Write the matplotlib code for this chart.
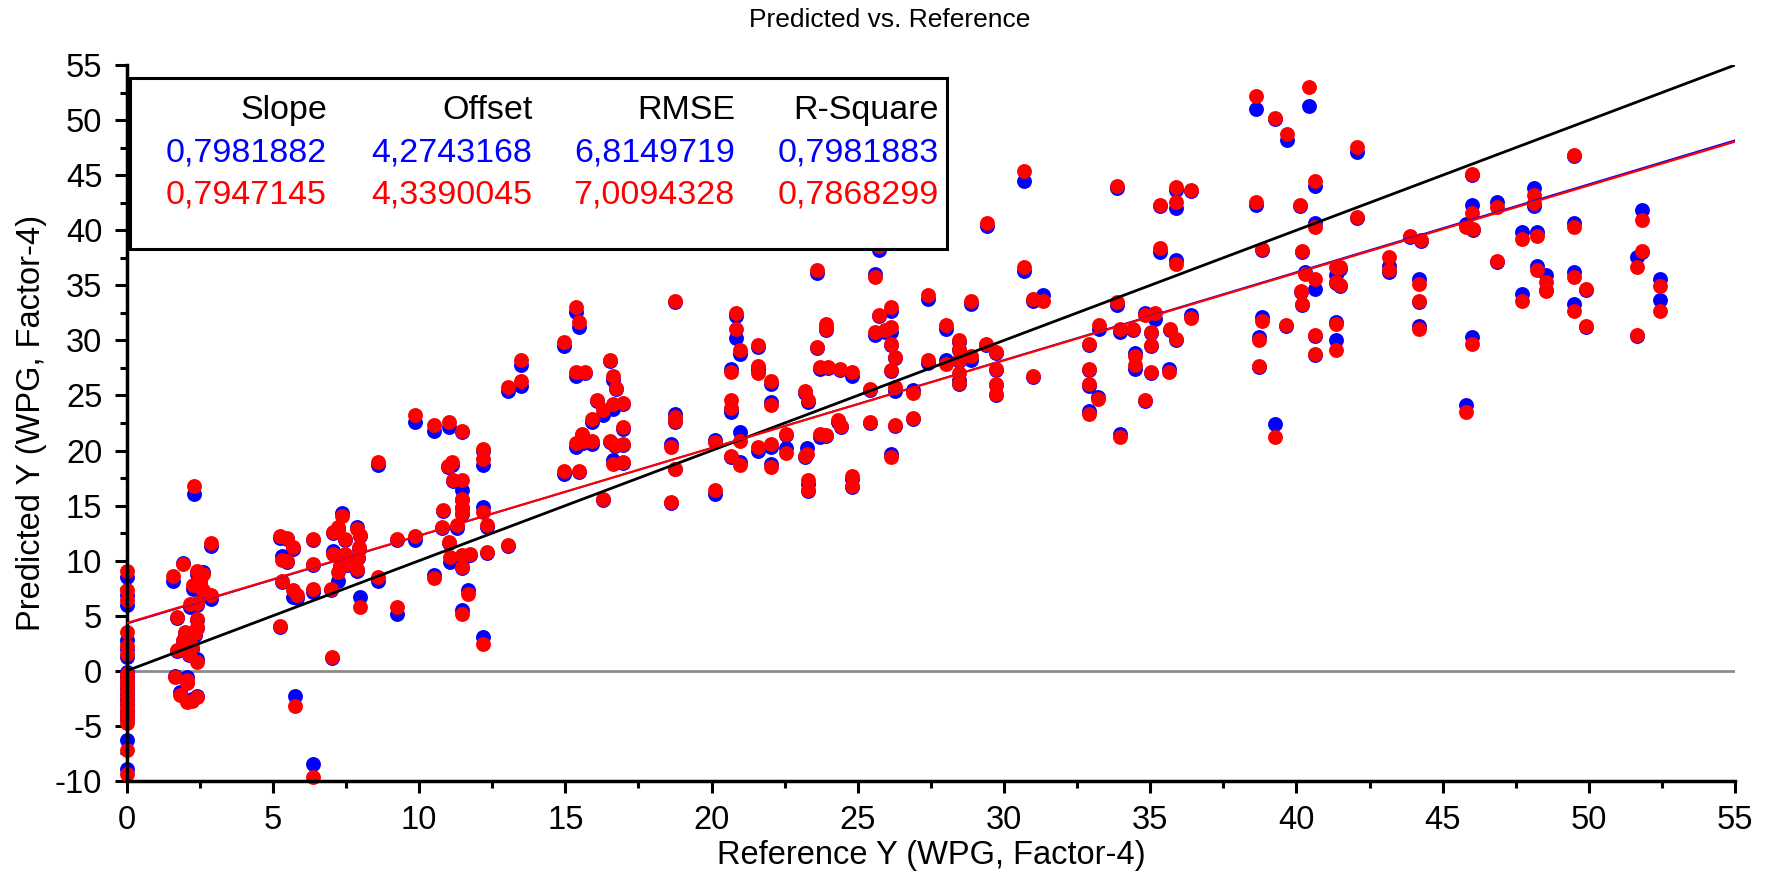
import matplotlib
matplotlib.use("Agg")
import matplotlib.pyplot as plt
from matplotlib.patches import Rectangle
from matplotlib.ticker import MultipleLocator

plt.rcParams["font.family"] = ["Liberation Sans", "DejaVu Sans"]
plt.rcParams["axes.unicode_minus"] = False

# reference values (x) and predictions of two models (blue, red)
ref_y = [
    0, 0, 0, 0, 0, 0, 0, 0, 0, 0, 0, 0, 0, 0, 0, 0, 0, 0,
    1.6, 1.94, 2.39, 2.62, 2.3, 2.9, 2.28, 2.5, 2.62, 2.9, 2.17, 2.39, 1.73, 2.39, 2.39,
    2.34, 1.99, 1.94, 2.22, 1.73, 2.14, 2.39, 1.65, 2.07, 2.07, 1.82, 2.07, 2.39, 2.22,
    5.24, 5.47, 5.7, 5.3, 5.47, 5.3, 5.68, 5.81, 5.24, 5.76, 6.38, 6.38, 6.38, 6.38,
    7.07, 7.24, 7.35, 7.46, 7.07, 7.46, 7.29, 7.52, 7.24, 7.0, 7.03, 7.86, 7.98, 7.95,
    7.92, 7.86, 7.98, 8.6, 8.6, 9.23, 9.23, 9.86, 9.86,
    10.51, 11.03, 11.45, 12.19, 12.19, 11.11, 11.0, 11.17, 11.45, 11.45, 11.45, 11.45,
    10.83, 12.19, 12.31, 11.28, 10.8, 11.03, 13.05, 12.31, 11.05, 11.45, 11.74, 11.45,
    10.51, 11.68, 11.45, 12.19, 13.47, 13.47, 13.05,
    15.38, 15.47, 14.95, 15.36, 15.67, 16.52, 16.64, 16.73, 16.64, 16.96, 16.1, 16.3,
    15.9, 16.96, 15.56, 15.36, 15.9, 15.59, 16.52, 16.69, 16.96, 16.64, 16.96, 14.95,
    15.47, 16.3, 18.75, 18.75, 18.75, 18.63, 18.75, 18.63,
    20.85, 20.85, 20.97, 21.59, 21.59, 21.59, 20.65, 20.65, 20.65, 22.03,
    22.03, 23.93, 23.93, 23.61, 23.7, 23.99, 24.39, 24.79, 23.19, 23.3,
    24.33, 24.44, 23.7, 23.93, 22.56, 22.03, 21.59, 20.97, 20.11, 20.65,
    20.97, 22.03, 22.54, 23.25, 23.2, 20.11, 23.3, 23.3, 24.79, 24.79,
    23.61, 25.72, 25.6,
    25.41, 25.41, 26.15, 25.72, 25.6, 25.92, 26.15, 26.15, 26.27, 26.15, 26.27, 26.27,
    26.15, 26.89, 26.89, 27.41, 27.41, 28.03, 28.03, 28.47, 28.47, 28.47, 28.47, 28.47,
    28.88, 28.88, 29.4, 29.74, 29.74, 29.74, 29.74, 29.42,
    30.69, 30.69, 30.99, 31.34, 30.99, 33.87, 33.87, 33.25, 33.96, 34.42, 34.82, 35.16,
    35.04, 35.04, 35.67, 35.88, 36.41, 32.9, 32.9, 32.9, 33.22, 32.9, 34.47, 34.47,
    35.02, 35.65, 34.82, 33.96, 35.35, 35.87, 35.87, 36.38, 35.35, 35.87,
    38.63, 38.63, 39.26, 39.68, 40.42, 40.63, 40.12, 40.63, 42.07, 42.07, 38.82, 40.19,
    38.82, 39.65, 38.72, 38.72, 39.26, 40.3, 40.63, 40.17, 40.2, 40.63, 40.63, 41.37,
    41.48, 41.37, 41.48, 41.37, 41.37,
    43.17, 43.17, 43.9, 44.25, 44.2, 44.2, 44.2, 45.81, 46.04, 46.0, 46.0, 45.81,
    46.0, 46.86, 46.86, 48.12, 48.12, 47.71, 48.23, 47.71, 48.23, 48.55, 48.55, 49.49,
    49.49, 49.49, 49.49, 49.9, 49.9, 51.82, 51.82, 51.63, 51.63, 52.45, 52.45,
]
pred_blue = [
    8.5, 6.85, 5.95, 2.8, 2.0, 1.3, -0.1, -0.6, -1.1, -1.6, -2.1, -2.6, -3.1, -3.6, -4.1, -4.4, -6.3, -8.9,
    8.2, 9.8, 8.8, 9.0, 16.1, 11.3, 7.45, 7.9, 7.1, 6.55, 5.8, 6.0, 4.8, 4.6, 3.9,
    3.3, 3.4, 2.7, 2.0, 1.8, 1.4, 1.1, -0.5, -0.55, -1.0, -1.9, -2.7, -2.3, -2.6,
    12.1, 12.0, 11.1, 10.4, 9.9, 8.1, 6.7, 6.6, 4.0, -2.3, 11.9, 9.6, 7.15, -8.5,
    12.5, 12.9, 14.3, 11.9, 10.9, 10.5, 9.4, 9.6, 8.2, 7.35, 1.2, 13.1, 12.2, 11.1,
    10.2, 9.1, 6.7, 18.65, 8.2, 11.9, 5.2, 11.9, 22.6,
    21.8, 22.1, 21.7, 20.0, 18.65, 18.65, 18.5, 17.2, 16.45, 15.5, 14.8, 14.2,
    14.5, 14.9, 13.1, 13.0, 13.0, 11.6, 11.3, 10.7, 9.9, 10.0, 10.5, 9.3,
    8.7, 7.3, 5.5, 3.1, 27.8, 25.9, 25.4,
    32.6, 31.2, 29.5, 26.75, 27.0, 28.1, 26.4, 25.6, 23.8, 24.2, 24.5, 23.2,
    22.6, 22.0, 21.4, 20.3, 20.6, 20.7, 20.8, 20.4, 20.5, 19.1, 18.85, 17.85,
    18.05, 15.5, 33.5, 23.35, 22.6, 20.6, 18.3, 15.2,
    32.2, 30.2, 28.8, 29.4, 27.6, 27.3, 27.4, 23.5, 23.8, 26.0,
    24.4, 31.15, 30.9, 29.3, 27.4, 27.5, 27.3, 26.8, 25.2, 24.45,
    22.6, 22.1, 21.2, 21.35, 21.4, 20.3, 20.0, 21.7, 21.0, 19.45,
    18.95, 18.8, 20.2, 20.2, 19.4, 16.1, 17.0, 16.3, 17.4, 16.65,
    36.1, 38.2, 36.05,
    25.5, 22.5, 32.7, 32.2, 30.45, 30.8, 30.75, 29.6, 28.4, 27.25, 25.45, 22.25,
    19.65, 25.5, 22.85, 33.8, 27.95, 31.05, 28.2, 29.9, 29.15, 28.1, 26.4, 26.0,
    33.3, 28.25, 29.6, 28.85, 27.3, 25.95, 25.05, 40.35,
    44.5, 36.3, 33.6, 34.1, 26.7, 43.8, 33.2, 31.0, 30.8, 30.9, 32.5, 31.9,
    30.7, 29.5, 30.9, 30.05, 32.3, 29.6, 27.3, 25.9, 24.9, 23.6, 28.9, 27.4,
    27.0, 27.4, 24.5, 21.5, 42.2, 43.7, 42.0, 43.6, 38.0, 37.3,
    51.0, 42.3, 50.1, 48.2, 51.3, 44.0, 42.2, 40.7, 47.1, 41.1, 38.2, 38.0,
    32.1, 31.3, 30.3, 27.6, 22.4, 36.2, 34.7, 34.4, 33.2, 30.4, 28.7, 35.9,
    36.5, 35.2, 34.9, 31.7, 30.0,
    36.8, 36.2, 39.4, 39.0, 35.6, 33.5, 31.3, 40.6, 40.0, 42.3, 45.0, 24.1,
    30.3, 42.6, 37.1, 43.8, 42.2, 39.8, 39.8, 34.2, 36.8, 35.9, 34.6, 46.7,
    40.7, 36.2, 33.3, 34.6, 31.2, 41.8, 38.0, 37.6, 30.4, 35.6, 33.7,
]
pred_red = [
    9.1, 7.3, 6.4, 3.5, 2.3, 1.55, -0.3, -0.8, -1.3, -1.8, -2.3, -2.8, -3.3, -3.8, -4.3, -4.7, -7.2, -9.4,
    8.6, 9.7, 9.1, 8.8, 16.75, 11.6, 7.8, 8.05, 7.3, 6.85, 6.1, 6.15, 4.9, 4.75, 4.0,
    3.4, 3.5, 2.8, 2.15, 1.9, 1.55, 0.8, -0.6, -0.85, -1.1, -2.2, -2.8, -2.4, -2.7,
    12.2, 12.1, 11.25, 10.1, 10.0, 8.2, 7.3, 6.85, 4.1, -3.2, 12.0, 9.7, 7.45, -9.6,
    12.6, 13.05, 14.1, 12.0, 10.6, 10.6, 9.6, 9.7, 9.0, 7.45, 1.3, 12.9, 12.3, 11.25,
    10.35, 9.25, 5.8, 18.95, 8.5, 12.0, 5.8, 12.2, 23.2,
    22.3, 22.6, 21.8, 20.1, 19.25, 18.95, 18.6, 17.3, 17.3, 15.6, 14.9, 14.3,
    14.6, 14.4, 13.2, 13.2, 13.1, 11.7, 11.4, 10.8, 10.35, 10.5, 10.6, 9.4,
    8.4, 7.0, 5.2, 2.4, 28.2, 26.3, 25.8,
    33.0, 31.65, 29.9, 27.15, 27.1, 28.25, 26.8, 25.7, 24.25, 24.3, 24.6, 23.7,
    22.9, 22.1, 21.5, 20.7, 20.9, 20.85, 20.9, 20.5, 20.6, 18.8, 18.95, 18.15,
    18.15, 15.6, 33.6, 23.05, 22.7, 20.3, 18.35, 15.3,
    32.5, 31.0, 29.1, 29.6, 27.7, 27.0, 27.1, 24.6, 23.9, 26.3,
    24.1, 31.5, 31.0, 29.4, 27.6, 27.6, 27.4, 27.1, 25.45, 24.55,
    22.8, 22.2, 21.5, 21.45, 21.5, 20.6, 20.3, 20.9, 20.8, 19.55,
    18.65, 18.5, 19.8, 19.7, 19.5, 16.4, 17.3, 16.4, 17.7, 16.75,
    36.4, 38.6, 35.75,
    25.6, 22.6, 33.0, 32.3, 30.75, 30.9, 31.2, 29.7, 28.5, 27.35, 25.75, 22.35,
    19.4, 25.2, 22.95, 34.1, 28.2, 31.4, 27.9, 30.0, 29.25, 28.2, 27.0, 26.1,
    33.6, 28.55, 29.7, 28.95, 27.4, 26.05, 25.15, 40.65,
    45.4, 36.65, 33.8, 33.6, 26.8, 44.0, 33.5, 31.4, 31.0, 31.0, 32.3, 32.5,
    30.8, 29.6, 31.0, 30.15, 32.0, 29.7, 27.4, 26.0, 24.7, 23.3, 28.6, 27.8,
    27.1, 27.1, 24.6, 21.2, 42.3, 43.97, 42.56, 43.7, 38.4, 36.9,
    52.15, 42.56, 50.2, 48.75, 53.0, 44.5, 42.3, 40.33, 47.6, 41.2, 38.3, 38.1,
    31.8, 31.4, 30.0, 27.7, 21.2, 36.0, 35.6, 34.5, 33.3, 30.5, 28.8, 36.65,
    36.65, 35.3, 35.0, 31.5, 29.1,
    37.57, 36.35, 39.5, 39.1, 35.1, 33.6, 31.0, 40.3, 40.1, 41.55, 45.1, 23.5,
    29.7, 42.1, 37.25, 43.2, 42.5, 39.2, 39.5, 33.6, 36.4, 35.3, 34.5, 46.8,
    40.3, 35.8, 32.7, 34.7, 31.3, 40.9, 38.1, 36.65, 30.5, 34.9, 32.7,
]

# statistics shown in the box
stat_names = ["Slope", "Offset", "RMSE", "R-Square"]
stats_blue = ["0,7981882", "4,2743168", "6,8149719", "0,7981883"]
stats_red = ["0,7947145", "4,3390045", "7,0094328", "0,7868299"]
slope_blue, offset_blue = 0.7981882, 4.2743168
slope_red, offset_red = 0.7947145, 4.3390045

fig = plt.figure(figsize=(17.79, 8.8), dpi=100)
ax = fig.add_axes([0.0712, 0.1125, 0.9041, 0.8136])

ax.plot([0, 55], [0, 0], color="#8c8c8c", lw=2, zorder=1)
ax.scatter(ref_y, pred_blue, s=115, color="#0000ff", lw=0, zorder=2, clip_on=False)
ax.scatter(ref_y, pred_red, s=115, color="#ff0000", lw=0, zorder=2.5, clip_on=False)
ax.plot([0, 55], [0, 55], color="black", lw=2, zorder=3)
ax.plot([0, 55], [offset_blue, offset_blue + 55 * slope_blue], color="#0000ff", lw=1.2, zorder=3)
ax.plot([0, 55], [offset_red, offset_red + 55 * slope_red], color="#ff0000", lw=1.6, zorder=3)

ax.set_xlim(0, 55)
ax.set_ylim(-10, 55)
ax.xaxis.set_major_locator(MultipleLocator(5))
ax.xaxis.set_minor_locator(MultipleLocator(2.5))
ax.yaxis.set_major_locator(MultipleLocator(5))
ax.yaxis.set_minor_locator(MultipleLocator(2.5))
for s in ["top", "right"]:
    ax.spines[s].set_visible(False)
for s in ["left", "bottom"]:
    ax.spines[s].set_linewidth(2.5)
ax.tick_params(which="major", direction="out", length=8.5, width=2.2, labelsize=23.5, pad=9)
ax.tick_params(which="minor", direction="out", length=5, width=2.2)

ax.set_xlabel("Reference Y (WPG, Factor-4)", fontsize=23.5, labelpad=3)
ax.set_ylabel("Predicted Y (WPG, Factor-4)", fontsize=23.5, labelpad=6)
fig.text(0.5, 1 - 20 / 880, "Predicted vs. Reference", fontsize=19, ha="center", va="center")

# statistics box
ax.add_patch(Rectangle((0.1, 38.3), 27.95, 15.5, facecolor="white", edgecolor="black",
                       lw=2.2, zorder=5, clip_on=False))
col_x = [6.85, 13.88, 20.8, 27.78]
for i in range(4):
    ax.text(col_x[i], 50.1, stat_names[i], fontsize=24.5, ha="right", va="baseline", color="black", zorder=6)
    ax.text(col_x[i], 46.25, stats_blue[i], fontsize=24.5, ha="right", va="baseline", color="#0000ff", zorder=6)
    ax.text(col_x[i], 42.4, stats_red[i], fontsize=24.5, ha="right", va="baseline", color="#ff0000", zorder=6)

fig.savefig("out.png", dpi=100)
